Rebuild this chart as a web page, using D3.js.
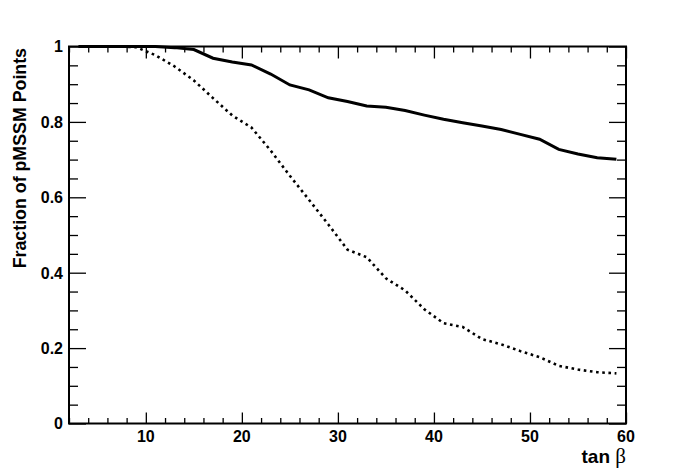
<!DOCTYPE html>
<html>
<head>
<meta charset="utf-8">
<script src="https://cdn.jsdelivr.net/npm/d3@7"></script>
<style>
  html, body { margin: 0; padding: 0; background: #fff; }
  svg { display: block; }
  .lbl { font-family: "Liberation Sans", Arial, sans-serif; font-weight: bold; fill: #000; }
</style>
</head>
<body>
<div id="chart"></div>
<script>
// tan beta bin centres
var tanBeta = [3, 5, 7, 9, 11, 13, 15, 17, 19, 21, 23, 25, 27, 29, 31, 33, 35, 37, 39, 41, 43, 45, 47, 49, 51, 53, 55, 57, 59];
// solid curve
var fracSolid = [1.0, 1.0, 1.0, 1.0, 1.0, 0.997, 0.992, 0.969, 0.959, 0.951, 0.927, 0.898, 0.885, 0.864, 0.854, 0.842, 0.839, 0.830, 0.818, 0.807, 0.798, 0.789, 0.780, 0.767, 0.754, 0.727, 0.715, 0.705, 0.701];
// dotted curve
var fracDotted = [1.0, 1.0, 1.0, 0.998, 0.977, 0.947, 0.910, 0.863, 0.817, 0.785, 0.724, 0.657, 0.593, 0.528, 0.461, 0.441, 0.385, 0.353, 0.303, 0.266, 0.256, 0.224, 0.210, 0.192, 0.176, 0.153, 0.143, 0.136, 0.133];
var yTickLabels = ['0', '0.2', '0.4', '0.6', '0.8', '1'];

var W = 696, H = 472;
var frame = { left: 69, right: 626, top: 46.5, bottom: 423.5 };

var svg = d3.select('#chart').append('svg:svg')
  .attr('width', W)
  .attr('height', H);

svg.append('svg:rect').attr('width', W).attr('height', H).attr('fill', '#fff');

var x = d3.scaleLinear().domain([2, 60]).range([frame.left, frame.right]);
var y = d3.scaleLinear().domain([0, 1]).range([frame.bottom, frame.top]);

var xMajor = d3.range(10, 61, 10);
var xMinor = d3.range(2, 61, 2).filter(function(v) { return v % 10 !== 0; });
var yMajor = d3.range(0, 1.001, 0.2);
var yMinor = d3.range(0.05, 1, 0.05).filter(function(v) { return Math.abs(v * 5 - Math.round(v * 5)) > 1e-6; });

function tickGroup(axis, tx, ty) {
  var g = svg.append('svg:g')
    .attr('transform', 'translate(' + tx + ',' + ty + ')')
    .call(axis);
  g.select('.domain').remove();
  g.selectAll('.tick line').attr('stroke', '#000').attr('stroke-width', 1.3);
  return g;
}

// bottom & top ticks
tickGroup(d3.axisBottom(x).tickValues(xMajor).tickSize(-11).tickFormat(''), 0, frame.bottom);
tickGroup(d3.axisBottom(x).tickValues(xMinor).tickSize(-5.5).tickFormat(''), 0, frame.bottom);
tickGroup(d3.axisTop(x).tickValues(xMajor).tickSize(-12).tickFormat(''), 0, frame.top);
tickGroup(d3.axisTop(x).tickValues(xMinor).tickSize(-6).tickFormat(''), 0, frame.top);
// left & right ticks
tickGroup(d3.axisLeft(y).tickValues(yMajor).tickSize(-17).tickFormat(''), frame.left, 0);
tickGroup(d3.axisLeft(y).tickValues(yMinor).tickSize(-9).tickFormat(''), frame.left, 0);
tickGroup(d3.axisRight(y).tickValues(yMajor).tickSize(-17).tickFormat(''), frame.right, 0);
tickGroup(d3.axisRight(y).tickValues(yMinor).tickSize(-9).tickFormat(''), frame.right, 0);

// x tick labels
svg.append('svg:g').selectAll('text')
  .data(xMajor)
  .enter().append('svg:text')
  .attr('class', 'lbl')
  .attr('x', function(d) { return x(d); })
  .attr('y', 441.5)
  .attr('text-anchor', 'middle')
  .attr('font-size', 16)
  .text(function(d) { return d; });

// y tick labels
svg.append('svg:g').selectAll('text')
  .data(yMajor)
  .enter().append('svg:text')
  .attr('class', 'lbl')
  .attr('x', 63)
  .attr('y', function(d) { return y(d) + 5.8; })
  .attr('text-anchor', 'end')
  .attr('font-size', 16)
  .text(function(d, i) { return yTickLabels[i]; });

// curves
var line = d3.line()
  .x(function(d) { return x(d[0]); })
  .y(function(d) { return y(d[1]); });

svg.append('svg:path')
  .datum(d3.zip(tanBeta, fracDotted))
  .attr('d', line)
  .attr('fill', 'none')
  .attr('stroke', '#000')
  .attr('stroke-width', 2.6)
  .attr('stroke-dasharray', '2.6,3.6');

svg.append('svg:path')
  .datum(d3.zip(tanBeta, fracSolid))
  .attr('d', line)
  .attr('fill', 'none')
  .attr('stroke', '#000')
  .attr('stroke-width', 3);

// frame
svg.append('svg:rect')
  .attr('x', frame.left)
  .attr('y', frame.top)
  .attr('width', frame.right - frame.left)
  .attr('height', frame.bottom - frame.top)
  .attr('fill', 'none')
  .attr('stroke', '#000')
  .attr('stroke-width', 2);

// axis titles
var xt = svg.append('svg:text')
  .attr('class', 'lbl')
  .attr('x', frame.right)
  .attr('y', 463)
  .attr('text-anchor', 'end')
  .attr('font-size', 19);
xt.append('svg:tspan').text('tan ');
xt.append('svg:tspan')
  .attr('font-family', '"Liberation Serif", "DejaVu Serif", serif')
  .attr('font-weight', 'normal')
  .attr('font-size', 21)
  .text('\u03B2');

svg.append('svg:text')
  .attr('class', 'lbl')
  .attr('transform', 'translate(25.5,48) rotate(-90)')
  .attr('text-anchor', 'end')
  .attr('font-size', 17.8)
  .text('Fraction of pMSSM Points');
</script>
</body>
</html>
